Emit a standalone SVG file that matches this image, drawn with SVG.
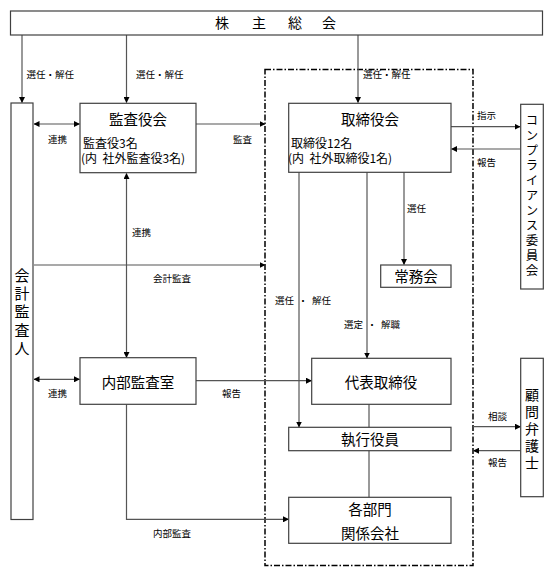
<svg xmlns="http://www.w3.org/2000/svg" width="554" height="577" viewBox="0 0 554 577">
<style>
text{font-family:"Noto Sans CJK JP","Noto Sans CJK SC",sans-serif;fill:#000}
.box{fill:#fff;stroke:#404040;stroke-width:1.2}
.t{font-size:14.5px;text-anchor:middle}
.s{font-size:12px}
.l{font-size:9.5px}
.vt{writing-mode:vertical-rl;text-orientation:upright}
.ln{fill:none;stroke:#555;stroke-width:1.2}
.dd{fill:none;stroke:#000;stroke-width:1.5;stroke-dasharray:6 2 1.5 2}
</style>
<defs>
<marker id="a" markerWidth="6" markerHeight="6" refX="5.5" refY="3" orient="auto" markerUnits="userSpaceOnUse"><path d="M0,0L6,3L0,6Z" fill="#000"/></marker>
<marker id="b" markerWidth="6" markerHeight="6" refX="0.5" refY="3" orient="auto" markerUnits="userSpaceOnUse"><path d="M6,0L0,3L6,6Z" fill="#000"/></marker>
</defs>

<rect class="dd" x="265" y="69.5" width="208" height="496"/>

<g id="connectors">
<path class="ln" d="M22,35V102.5" marker-end="url(#a)"/>
<path class="ln" d="M126.5,35V102.5" marker-end="url(#a)"/>
<path class="ln" d="M358,35V102.5" marker-end="url(#a)"/>
<path class="ln" d="M34,124H79.5" marker-start="url(#b)" marker-end="url(#a)"/>
<path class="ln" d="M196,124H265" marker-end="url(#a)"/>
<path class="ln" d="M451,126.7H520" marker-end="url(#a)"/>
<path class="ln" d="M520,149H451.5" marker-end="url(#a)"/>
<path class="ln" d="M126.5,173.5V357.5" marker-start="url(#b)" marker-end="url(#a)"/>
<path class="ln" d="M34,265H265" marker-end="url(#a)"/>
<path class="ln" d="M404,172V264.5" marker-end="url(#a)"/>
<path class="ln" d="M299,172V427" marker-end="url(#a)"/>
<path class="ln" d="M367,172V358" marker-end="url(#a)"/>
<path class="ln" d="M34,379.3H79.5" marker-start="url(#b)" marker-end="url(#a)"/>
<path class="ln" d="M196,380.7H311.5" marker-end="url(#a)"/>
<path class="ln" d="M369,404.3V427.3"/>
<path class="ln" d="M369,450.7V497.3"/>
<path class="ln" d="M126.5,404.3V519.3H288.5" marker-end="url(#a)"/>
<path class="ln" d="M473,426.7H520.5" marker-end="url(#a)"/>
<path class="ln" d="M520.5,450.7H473.5" marker-end="url(#a)"/>
<text class="l" x="26.5" y="77.5">選任・解任</text>
<text class="l" x="136" y="77.5">選任・解任</text>
<text class="l" x="363" y="77.5">選任・解任</text>
<text class="l" x="48" y="142.5">連携</text>
<text class="l" x="233" y="142.5">監査</text>
<text class="l" x="477" y="118.5">指示</text>
<text class="l" x="477" y="166">報告</text>
<text class="l" x="132" y="235.5">連携</text>
<text class="l" x="407" y="211.5">選任</text>
<text class="l" x="153" y="281.5">会計監査</text>
<text class="l" x="275" y="304" xml:space="preserve">選任  ・  解任</text>
<text class="l" x="344" y="327.5" xml:space="preserve">選定  ・  解職</text>
<text class="l" x="48" y="396.5">連携</text>
<text class="l" x="222" y="396.5">報告</text>
<text class="l" x="488" y="420">相談</text>
<text class="l" x="488" y="466">報告</text>
<text class="l" x="153" y="536.5">内部監査</text>
</g>

<g id="shareholders">
<rect class="box" x="10.5" y="11" width="532" height="24"/>
<text class="t" style="font-size:14px" x="222 259 295 329" y="28">株主総会</text>
</g>

<g id="auditor">
<rect class="box" x="11" y="103" width="22" height="416.5"/>
<text class="vt" x="22" y="267.5" style="font-size:15px;letter-spacing:3.3px">会計監査人</text>
</g>

<g id="kansayakukai">
<rect class="box" x="80" y="103.3" width="116" height="69.4"/>
<text class="t" x="138" y="125">監査役会</text>
<text class="s" x="83" y="147.5">監査役3名</text>
<text class="s" x="81" y="163" xml:space="preserve">(内  社外監査役3名)</text>
</g>

<g id="torishimariyakukai">
<rect class="box" x="288.7" y="103.3" width="162.3" height="69"/>
<text class="t" x="370" y="124.5">取締役会</text>
<text class="s" x="291" y="147.5">取締役12名</text>
<text class="s" x="288" y="163" xml:space="preserve">(内  社外取締役1名)</text>
</g>

<g id="compliance">
<rect class="box" x="520.7" y="104.3" width="22.6" height="184.7"/>
<text class="vt" x="532" y="113.7" style="font-size:12.5px;letter-spacing:2.5px">コンプライアンス委員会</text>
</g>

<g id="jomukai">
<rect class="box" x="380.7" y="265" width="70.3" height="22.3"/>
<text class="t" x="416" y="281.5">常務会</text>
</g>

<g id="naibukansa">
<rect class="box" x="80" y="357.7" width="116" height="46.6"/>
<text class="t" x="138" y="388">内部監査室</text>
</g>

<g id="daihyo">
<rect class="box" x="311.7" y="358.3" width="139.3" height="46"/>
<text class="t" x="381" y="388">代表取締役</text>
</g>

<g id="shikko">
<rect class="box" x="288.7" y="427.3" width="162.3" height="23.4"/>
<text class="t" x="370" y="444.5">執行役員</text>
</g>

<g id="kakubumon">
<rect class="box" x="288.7" y="497.3" width="162.3" height="46"/>
<text class="t" x="370" y="514.6">各部門</text>
<text class="t" x="370" y="538.6">関係会社</text>
</g>

<g id="bengoshi">
<rect class="box" x="520.7" y="358.3" width="22.6" height="138.4"/>
<text class="vt" x="532" y="388" style="font-size:14px;letter-spacing:3px">顧問弁護士</text>
</g>
</svg>
